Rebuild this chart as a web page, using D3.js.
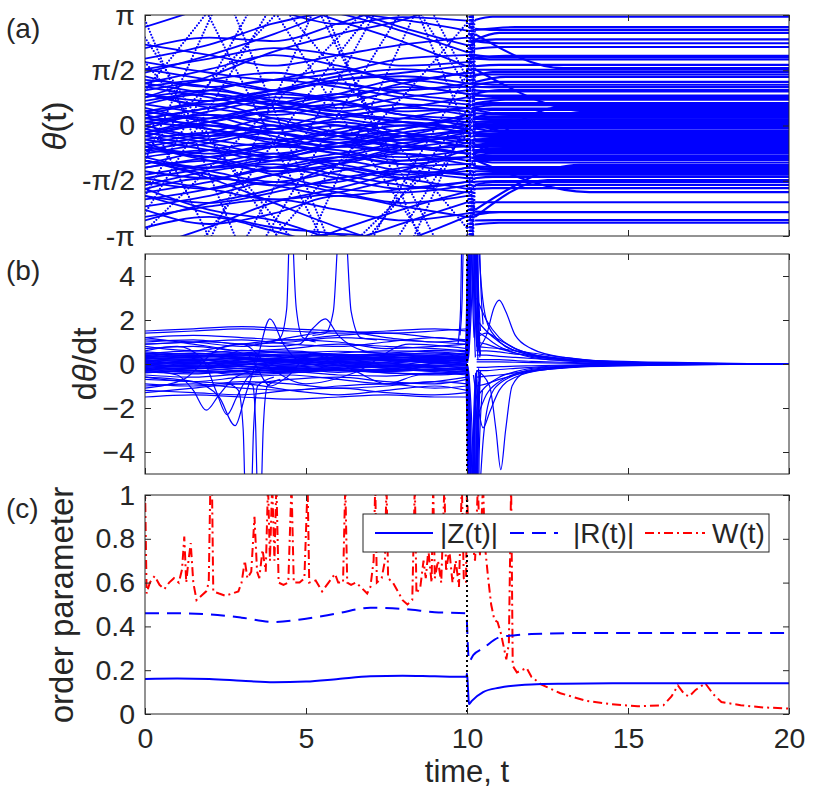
<!DOCTYPE html>
<html><head><meta charset="utf-8">
<script src="https://cdn.jsdelivr.net/npm/d3@7"></script>
<style>
body{margin:0;background:#fff}
text{font-family:"Liberation Sans",Arial,Helvetica,sans-serif;fill:#262626}
</style>
</head><body>
<svg id="chart" width="830" height="789"></svg>
<script>
const PI = Math.PI;

// ---------- tick values / labels ----------
const xTicks = [0, 5, 10, 15, 20];
const aTickValues = [-PI, -PI/2, 0, PI/2, PI];
const aTickLabels = ["-π", "-π/2", "0", "π/2", "π"];
const bTicks = [-4, -2, 0, 2, 4];
const cTicks = [0, 0.2, 0.4, 0.6, 0.8, 1];
const cTickLabels = ["0", "0.2", "0.4", "0.6", "0.8", "1"];
const switchTime = 10;

// ---------- panel (a): phases (unwrapped) ----------
const aTimes = [0, 2, 4, 6, 8, 10, 10.25];
const phaseKnots = [
 [-2.0, 1.2, 4.5, 7.6, 10.9, 14.0, 15.0],
 [1.0, 3.3, 5.8, 8.3, 10.6, 13.0, 13.8],
 [2.5, -0.3, -3.0, -5.9, -8.6, -11.5, -12.5],
 [-1.0, 3.0, 7.0, 11.1, 15.0, 19.0, 19.3],
 [0.5, -3.2, -6.8, -10.4, -14.0, -17.5, -17.7],
 [-0.8, 1.2, 3.1, 5.2, 7.1, 9.2, 9.0],
 [1.8, -0.4, -2.6, -4.8, -7.0, -9.2, -9.1],
 [-2.5, 0.5, 3.5, 6.6, 9.6, 12.5, 13.2],
 [3.0, -1.4, -5.8, -10.2, -14.6, -19.0, -19.4],
 [-3.0, -1.2, 0.6, 2.5, 4.3, 6.0, 6.2],
 [1.5, 2.0, 2.6, 3.3, 3.9, 4.4, 5.3],
 [-1.0, -1.5, -2.2, -2.9, -3.5, -4.0, -4.1],
 [2.2, 2.5, 2.4, 2.9, 3.5, 4.1, 4.1],
 [-2.0, -2.5, -2.9, -3.1, -3.6, -4.2, -4.35],
 [0.8, 1.4, 2.1, 2.6, 3.0, 3.7, 3.75],
 [-2.7, -2.2, -1.8, -1.1, -0.6, -0.2, -0.8],
 [2.8, 3.4, 4.1, 4.5, 5.0, 5.6, 5.7],
 [-1.8, -2.4, -2.7, -3.3, -3.9, -4.6, -4.6],
 [1.9, 2.3, 2.9, 3.2, 3.0, 2.7, 2.4],
 [-2.4, -2.8, -2.5, -2.0, -2.3, -2.6, -2.7],
 [1.2, 1.6, 2.0, 1.7, 1.3, 1.5, 3.0],
 [-2.9, -2.6, -3.0, -3.4, -3.2, -3.3, 2.75],
 [1.6, 1.9, 2.2, 2.0, 1.7, 1.8, 2.0],
 [1.1, 1.3, 1.0, 0.8, 1.2, 1.5, 2.6],
 [0.9, 0.6, 0.9, 1.3, 1.4, 1.2, 7.7],
 [1.3, 1.1, 0.7, 0.5, 0.8, 1.0, 1.1],
 [0.4, 0.7, 1.0, 1.2, 0.9, 0.7, 0.9],
 [0.9, 0.5, 0.3, 0.6, 1.0, 1.1, -5.4],
 [0.2, 0.5, 0.8, 0.7, 0.4, 0.5, 0.6],
 [-0.3, 0.1, 0.4, 0.2, 0.0, 0.3, 0.5],
 [0.6, 0.3, -0.1, 0.2, 0.5, 0.4, 6.5],
 [0.0, -0.3, -0.1, 0.3, 0.2, 0.1, 0.2],
 [-0.5, -0.2, 0.2, 0.0, -0.3, -0.1, 0.0],
 [0.4, 0.1, -0.2, -0.4, -0.1, 0.2, -6.3],
 [-0.1, -0.4, -0.6, -0.3, 0.0, -0.2, -0.3],
 [-0.8, -0.5, -0.2, -0.5, -0.7, -0.5, -0.4],
 [-0.3, -0.6, -0.9, -1.0, -0.7, -0.6, -0.7],
 [-1.2, -0.9, -0.6, -0.7, -1.0, -0.9, 5.4],
 [-0.6, -1.0, -1.3, -1.1, -0.8, -1.0, -0.9],
 [-1.4, -1.1, -0.8, -1.2, -1.5, -1.2, -1.0],
 [-1.6, -1.8, -1.4, -1.0, -1.3, -1.5, -2.4],
 [-1.0, -1.4, -1.7, -1.6, -1.2, -1.1, -7.5],
 [-1.9, -1.6, -1.2, -1.5, -1.8, -1.6, -1.4],
 [-1.2, -1.0, -1.4, -1.8, -1.9, -1.7, -1.5],
 [-2.0, -2.2, -1.9, -1.5, -1.3, -1.4, -2.6],
 [-1.7, -1.3, -1.1, -1.4, -1.7, -1.9, 4.6],
 [-2.3, -2.0, -1.6, -1.9, -2.2, -2.0, -1.7],
 [0.3, 0.6, 0.2, -0.2, -0.4, -0.1, 0.0],
 [-0.2, 0.2, 0.5, 0.3, 0.1, -0.1, 6.2],
 [0.1, -0.1, -0.4, -0.6, -0.4, -0.3, -0.2],
 [-0.6, -0.8, -0.5, -0.1, 0.1, -0.1, -0.2],
 [0.2, 0.0, -0.2, 0.0, -0.3, -0.6, -0.4],
 [-0.9, -0.7, -0.9, -0.6, -0.3, -0.4, -6.7],
 [-0.4, -0.2, -0.5, -0.8, -0.9, -0.7, -0.6],
 [-1.0, -1.2, -0.9, -0.5, -0.4, -0.6, -0.6],
 [0.8, 1.0, 0.7, 0.4, 0.6, 0.5, 1.6],
 [1.1, 0.8, 0.5, 0.8, 1.1, 0.9, 6.8],
 [-0.7, -0.9, -1.2, -0.9, -0.6, -0.8, -1.0],
 [-1.5, -1.8, -2.1, -1.9, -1.5, -1.3, -1.4],
 [-0.2, 0.1, 0.4, 0.6, 0.3, 0.0, 0.2],
 [0.5, 0.2, 0.6, 0.9, 0.6, 0.3, 0.35],
 [-0.5, -0.9, -0.6, -0.2, -0.5, -0.8, -0.75],
 [1.4, 1.1, 1.3, 1.6, 1.2, 0.9, 0.85],
 [-1.3, -1.5, -1.2, -0.9, -1.1, -1.4, -1.3],
 [0.7, 1.0, 1.3, 1.1, 0.8, 0.6, 0.6],
 [-0.1, 0.3, 0.1, -0.3, -0.6, -0.4, -0.45],
 [1.8, 1.5, 1.3, 1.5, 1.9, 2.0, 1.9],
 [-1.8, -1.5, -1.7, -2.0, -1.8, -1.6, -1.6],
 [0.3, -0.1, -0.4, -0.2, 0.2, 0.5, 0.45],
 [-0.7, -0.4, -0.1, 0.1, -0.2, -0.5, -0.55],
 [1.0, 1.3, 1.5, 1.2, 1.0, 1.2, 1.2],
 [-1.1, -0.7, -0.5, -0.8, -1.1, -0.9, -0.85],
 [0.0, 0.4, 0.7, 0.4, 0.1, -0.1, -0.05],
 [-0.4, -0.7, -1.0, -0.8, -0.5, -0.3, -0.3],
 [0.9, 0.7, 1.0, 1.4, 1.6, 1.4, 1.45],
 [-2.1, -1.8, -1.4, -1.2, -1.5, -1.8, -1.8],
 [0.1, 0.3, 0.0, -0.3, -0.1, 0.3, 0.25],
 [-0.9, -1.2, -1.0, -0.6, -0.8, -1.1, -1.15],
 [0.6, 0.9, 0.6, 0.3, 0.5, 0.8, 0.75],
 [-0.2, -0.5, -0.8, -0.5, -0.2, 0.0, 0.05],
 [1.6, 1.3, 1.0, 1.3, 1.5, 1.7, -4.7],
 [-0.6, -0.3, 0.0, -0.3, -0.6, -0.8, 5.5],
 [0.2, 0.5, 0.9, 0.7, 0.3, 0.2, -6.1],
 [-1.5, -1.2, -0.9, -1.1, -1.4, -1.2, 5.1],
 [2.3, 2.0, 1.7, 2.0, 2.3, 2.5, 2.4],
 [-2.6, -2.3, -2.1, -2.4, -2.7, -2.5, -2.45],
 [1.2, 0.9, 0.6, 0.9, 1.3, 1.1, 1.0],
 [-0.3, 0.0, -0.2, -0.5, -0.3, 0.1, 0.1],
 [0.4, 0.1, -0.3, -0.6, -0.3, -0.2, -0.25],
 [-1.0, -1.3, -1.6, -1.3, -1.0, -0.9, -0.95]
];
const settleTime = [
 11.0, 11.2, 11.0, 11.3, 11.0, 11.5, 11.0, 11.2, 11.0, 11.5,
 13.8, 11.0, 11.0, 11.2, 11.0, 13.0, 11.5, 11.0, 11.0, 11.0,
 10.8, 10.7, 10.8, 13.0, 10.8, 10.7, 11.0, 10.8, 10.7, 10.8,
 10.9, 10.7, 10.8, 10.9, 10.8, 10.8, 10.7, 10.8, 10.7, 10.8,
 13.5, 10.8, 10.8, 10.8, 12.5, 10.8, 10.8, 11.0, 10.8, 10.7,
 10.8, 11.0, 10.8, 10.7, 10.8, 13.8, 10.8, 10.9, 10.8, 10.8,
 10.8, 10.8, 10.9, 10.8, 10.7, 10.8, 10.8, 10.9, 10.8, 10.8,
 10.8, 10.7, 10.8, 10.8, 10.9, 10.8, 10.8, 10.8, 10.7, 10.8,
 10.8, 10.8, 10.8, 10.8, 10.9, 10.8, 10.8, 10.8, 10.8, 10.9
];
const finalPhase = [
 15.20, 13.95, -12.70, 19.15, -17.61, 9.08, -9.05, 13.30, -19.35, 6.07,
 4.39, -4.05, 4.10, -4.30, 3.82, 0.53, 5.67, -4.56, 2.34, -2.69,
 3.09, 2.72, 1.95, 1.63, 7.80, 1.09, 1.01, -5.47, 0.64, 0.44,
 6.64, 0.16, 0.01, -6.35, -0.33, -0.41, -0.70, 5.50, -0.90, -0.98,
 -1.12, -7.55, -1.35, -1.46, -1.55, 4.67, -1.69, 0.05, 6.25, -0.17,
 -0.25, -0.37, -6.73, -0.55, -0.65, 0.40, 6.86, -1.05, -1.40, 0.22,
 0.33, -0.75, 0.85, -1.30, 0.60, -0.47, 1.88, -1.58, 0.48, -0.58,
 1.16, -0.85, -0.05, -0.29, 1.45, -1.78, 0.26, -1.18, 0.76, 0.08,
 -4.70, 5.53, -6.11, 5.05, 2.45, -2.46, 0.97, 0.12, -0.23, -0.95
];

// ---------- panel (b): rates ----------
const bPreTimes = [0, 1.5, 3, 4.5, 6, 7.5, 9, 10];
const bPreRates = [
 [0.1,0.2,0.0,-0.1,0.1,0.2,0.1,0.0],
 [-0.1,0.0,0.2,0.1,-0.1,0.0,0.2,0.1],
 [0.3,0.2,0.1,0.3,0.4,0.2,0.1,0.2],
 [-0.3,-0.2,-0.1,-0.3,-0.2,-0.1,-0.3,-0.2],
 [0.0,-0.1,-0.2,0.0,0.1,-0.1,0.0,0.1],
 [0.4,0.5,0.3,0.2,0.3,0.4,0.5,0.3],
 [-0.2,-0.4,-0.3,-0.1,-0.2,-0.3,-0.1,-0.2],
 [0.2,0.0,0.1,0.2,0.0,0.1,0.3,0.2],
 [0.05,0.1,0.3,0.2,0.1,0.0,-0.1,0.0],
 [-0.05,-0.15,0.0,0.1,0.0,-0.2,-0.1,-0.1],
 [0.5,0.4,0.5,0.6,0.4,0.3,0.4,0.5],
 [-0.4,-0.3,-0.5,-0.4,-0.3,-0.4,-0.5,-0.4],
 [0.15,0.25,0.2,0.1,0.25,0.3,0.2,0.15],
 [-0.15,-0.05,-0.1,-0.25,-0.15,-0.05,-0.2,-0.15],
 [0.35,0.3,0.4,0.35,0.2,0.25,0.3,0.35],
 [0.0,0.1,0.0,-0.05,0.05,0.15,0.05,-0.05],
 [-0.25,-0.3,-0.2,-0.15,-0.3,-0.35,-0.25,-0.3],
 [0.25,0.15,0.3,0.4,0.3,0.2,0.15,0.25],
 [0.45,0.6,0.5,0.4,0.5,0.6,0.55,0.45],
 [-0.5,-0.6,-0.45,-0.35,-0.5,-0.55,-0.4,-0.5],
 [0.12,0.02,0.18,0.28,0.12,0.05,0.22,0.3],
 [-0.08,0.08,-0.12,-0.02,0.15,0.05,-0.08,0.05],
 [0.32,0.42,0.28,0.15,0.35,0.45,0.38,0.28],
 [-0.35,-0.45,-0.28,-0.2,-0.38,-0.25,-0.35,-0.45],
 [0.22,0.35,0.45,0.3,0.18,0.35,0.42,0.4],
 [0.55,0.45,0.62,0.5,0.58,0.5,0.62,0.55],
 [-0.18,-0.28,-0.35,-0.22,-0.08,-0.18,-0.3,-0.25],
 [0.08,-0.05,0.1,0.22,0.05,-0.05,0.12,0.18],
 [0.28,0.38,0.22,0.12,0.3,0.4,0.32,0.24],
 [-0.02,-0.12,0.06,0.16,-0.04,-0.14,0.04,0.12],
 [0.42,0.32,0.36,0.46,0.4,0.28,0.34,0.42],
 [-0.28,-0.18,-0.32,-0.4,-0.22,-0.12,-0.3,-0.36],
 [0.18,0.08,-0.02,0.12,0.24,0.16,0.06,0.1],
 [-0.12,-0.22,-0.06,0.04,-0.18,-0.26,-0.14,-0.06],
 [0.38,0.48,0.4,0.3,0.44,0.36,0.26,0.36],
 [0.02,0.16,0.26,0.08,-0.06,0.08,0.2,0.26],
 [-0.38,-0.32,-0.42,-0.3,-0.26,-0.4,-0.44,-0.32],
 [0.48,0.38,0.46,0.54,0.42,0.46,0.5,0.4],
 [0.26,0.2,0.1,0.18,0.32,0.24,0.14,0.22],
 [-0.22,-0.1,-0.2,-0.32,-0.24,-0.08,-0.16,-0.28],
 [0.7,0.8,0.6,0.7,0.9,0.8,0.7,0.6],
 [-0.7,-0.8,-0.9,-0.7,-0.6,-0.8,-0.9,-0.7],
 [1.0,1.1,0.9,1.0,1.2,1.1,1.0,0.9],
 [-1.0,-0.9,-1.1,-1.2,-1.0,-0.9,-1.1,-1.0],
 [1.2,1.3,1.2,1.1,1.3,1.4,1.2,1.1],
 [-1.2,-1.3,-1.4,-1.2,-1.1,-1.3,-1.4,-1.3],
 [1.4,1.5,1.6,1.5,1.4,1.5,1.6,1.5],
 [-1.5,-1.4,-1.5,-1.6,-1.5,-1.4,-1.5,-1.5],
 [1.5,1.6,1.7,1.6,1.5,1.4,1.5,1.6],
 [0.9,1.0,1.1,0.9,0.8,1.0,1.2,1.0],
 [-0.9,-1.0,-0.8,-0.9,-1.1,-1.0,-0.8,-0.9],
 [1.1,1.0,0.8,1.2,1.5,1.2,1.0,1.1],
 [-1.3,-1.1,-0.9,-1.2,-1.4,-1.2,-1.0,-1.2],
 [0.8,0.6,0.9,1.1,1.0,0.7,0.8,0.9],
 [-0.6,-0.8,-0.6,-0.5,-0.7,-0.9,-0.8,-0.6]
];
const bPostTimes = [10.3, 10.6, 11, 11.5, 12, 13, 14, 16, 20];
const bPostRates = [
 [1.5,1.2,0.8,0.5,0.3,0.15,0.08,0.02,0],
 [-1.5,-1.0,-0.6,-0.35,-0.2,-0.1,-0.05,-0.01,0],
 [0.8,0.75,0.7,0.6,0.5,0.3,0.15,0.04,0],
 [2.0,1.5,1.0,0.6,0.4,0.2,0.1,0.02,0],
 [-0.6,-0.55,-0.5,-0.4,-0.3,-0.15,-0.08,-0.02,0],
 [1.0,0.9,0.7,0.5,0.35,0.2,0.1,0.02,0],
 [0.4,0.4,0.35,0.3,0.25,0.15,0.08,0.02,0],
 [-0.3,-0.3,-0.25,-0.2,-0.15,-0.08,-0.04,-0.01,0],
 [0.2,0.2,0.2,0.15,0.12,0.08,0.04,0.01,0],
 [3.0,2.0,1.2,0.7,0.45,0.2,0.1,0.02,0],
 [-2.5,-1.4,-0.8,-0.45,-0.25,-0.12,-0.05,-0.01,0],
 [0.6,0.6,0.55,0.45,0.4,0.25,0.12,0.03,0],
 [-0.15,-0.15,-0.12,-0.1,-0.08,-0.05,-0.03,0,0],
 [0.1,0.1,0.1,0.08,0.06,0.04,0.02,0,0],
 [1.2,1.4,1.1,0.7,0.45,0.22,0.1,0.02,0],
 [-1.0,-0.9,-0.7,-0.5,-0.35,-0.18,-0.08,-0.02,0]
];
const bEvents = [
 [[0,-0.3],[1.0,-0.5],[1.5,-1.2],[1.9,-2.1],[2.3,-1.4],[2.8,-0.6],[3.5,-0.3],[5,-0.2],[7,-0.3],[10,-0.2]],
 [[0,0.6],[1,0.8],[1.8,0.2],[2.2,-1.2],[2.55,-2.3],[2.85,-1.5],[3.2,-0.6],[4,0.0],[6,0.3],[8,0.2],[10,0.3]],
 [[0,-0.6],[1.5,-0.8],[2.3,-1.5],[2.8,-2.8],[3.1,-1.5],[3.5,0.3],[3.88,2.05],[4.3,0.9],[5,0.0],[7,-0.1],[10,0.0]],
 [[0,0.9],[2,1.0],[4,0.8],[4.8,0.9],[5.2,1.6],[5.6,2.05],[6.0,1.3],[6.8,0.6],[8,0.4],[10,0.3]],
 [[2.6,-0.9],[2.9,-1.2],[3.05,-3],[3.10,-5.5],[3.21,-9],[3.32,-5.5],[3.37,-3],[3.5,-1.0],[4.0,-0.6]],
 [[3.2,-0.8],[3.35,-1.0],[3.44,-3],[3.48,-5.5],[3.55,-9],[3.62,-5.5],[3.67,-3],[3.8,-1.0],[4.2,-0.7]],
 [[3.9,1.0],[4.2,1.2],[4.4,2.5],[4.47,5.5],[4.53,9],[4.60,5.5],[4.7,2.5],[4.9,1.2],[5.3,1.0]],
 [[5.2,1.3],[5.6,1.4],[5.85,2.4],[5.98,5.5],[6.12,9],[6.27,5.5],[6.4,2.4],[6.7,1.2],[7.2,1.1]],
 [[0,1.2],[1.5,0.9],[3.2,0.4],[3.9,-1.0],[4.4,-0.6],[5.2,0.5],[6.5,-0.3],[7.5,-0.9],[8.5,-0.5],[10,-0.4]],
 [[0,-1.1],[1.2,-0.7],[2.3,0.7],[3.0,0.9],[4.0,-0.3],[5.0,-0.9],[6.5,-0.4],[8.2,0.9],[10,0.7]],
 [[10.3,0.6],[10.6,1.3],[10.85,2.6],[11.0,2.9],[11.2,2.4],[11.5,1.3],[12,0.7],[13,0.3],[15,0.08],[20,0]],
 [[10.3,-0.3],[10.7,-1.0],[10.9,-3.0],[11.05,-4.8],[11.2,-3.0],[11.4,-1.0],[11.8,-0.4],[13,-0.15],[20,0]],
 [[10.2,-0.5],[10.35,-2.0],[10.5,-2.9],[10.7,-2.2],[11,-1.2],[11.5,-0.6],[12.5,-0.25],[15,-0.05],[20,0]],
 [[10.3,7],[10.45,3.5],[10.6,2.0],[10.9,1.2],[11.5,0.6],[13,0.2],[20,0]],
 [[10.35,-7],[10.5,-3.5],[10.7,-1.6],[11.0,-0.9],[12,-0.3],[14,-0.05],[20,0]]
];
const bTransients = [
 [[9.72,0.9],[9.8,2.5],[9.84,6],[9.88,9]],
 [[9.78,1.3],[9.85,3],[9.89,6],[9.92,9]],
 [[9.95,0.3],[10.0,4],[10.03,9],[10.2,9],[10.24,4],[10.3,0.8]],
 [[9.96,-0.2],[10.01,-4],[10.04,-9],[10.18,-9],[10.22,-4],[10.28,-0.6]],
 [[9.97,0.1],[10.03,5],[10.06,9],[10.12,9],[10.15,5],[10.22,1.2]],
 [[9.98,-0.1],[10.04,-5],[10.07,-9],[10.26,-9],[10.3,-4],[10.38,-1.0]],
 [[9.99,0.4],[10.06,6],[10.08,9],[10.3,9],[10.33,5],[10.42,1.5]],
 [[10.0,-0.3],[10.07,-6],[10.09,-9],[10.14,-9],[10.17,-5],[10.25,-1.5]],
 [[10.0,0.2],[10.08,4],[10.11,9],[10.22,9],[10.26,3],[10.35,0.9]],
 [[10.0,-0.5],[10.1,-4],[10.13,-9],[10.24,-9],[10.28,-3],[10.36,-0.8]],
 [[10.01,0.0],[10.09,-3],[10.12,-9],[10.16,-9],[10.2,-3],[10.27,-0.4]],
 [[10.01,0.1],[10.05,3],[10.1,9],[10.19,9],[10.23,3.5],[10.32,0.6]],
 [[10.02,-0.1],[10.1,-5],[10.15,-9],[10.34,-9],[10.38,-4],[10.48,-1.2]],
 [[10.02,0.3],[10.12,5],[10.16,9],[10.36,9],[10.4,5],[10.5,1.8]],
 [[10.0,0.1],[10.03,6],[10.04,9],[10.27,9],[10.29,5],[10.36,0.6]],
 [[10.0,-0.1],[10.04,-6],[10.05,-9],[10.29,-9],[10.31,-5],[10.4,-0.5]],
 [[10.01,0.2],[10.05,6],[10.06,9],[10.31,9],[10.33,4],[10.42,0.4]],
 [[10.01,-0.2],[10.06,-6],[10.07,-9],[10.21,-9],[10.23,-5],[10.3,-0.7]],
 [[10.02,0.05],[10.09,6],[10.1,9],[10.17,9],[10.19,5],[10.26,0.3]],
 [[10.02,-0.05],[10.11,-6],[10.12,-9],[10.19,-9],[10.21,-5],[10.3,-0.3]],
 [[10.03,0.15],[10.13,6],[10.14,9],[10.24,9],[10.26,5],[10.34,0.2]],
 [[10.03,-0.15],[10.14,-6],[10.15,-9],[10.26,-9],[10.28,-5],[10.36,-0.2]],
 [[10.04,0.25],[10.15,6],[10.17,9],[10.28,9],[10.3,5],[10.38,0.5]],
 [[10.04,-0.25],[10.16,-6],[10.18,-9],[10.3,-9],[10.32,-5],[10.4,-0.35]],
 [[10.05,0.3],[10.2,6],[10.21,9],[10.32,9],[10.33,5],[10.4,0.3]],
 [[10.05,-0.3],[10.22,-6],[10.23,-9],[10.33,-9],[10.34,-5],[10.42,-0.3]]
];

// ---------- panel (c): order parameters ----------
const zTimes  = [0,1,2,3,4,5,6,7,8,9,9.98,10.0,10.03,10.06,10.15,10.5,11,12,13,15,20];
const zValues = [0.16,0.162,0.16,0.152,0.145,0.148,0.16,0.172,0.175,0.172,0.17,0.185,0.12,0.045,0.06,0.10,0.12,0.135,0.138,0.14,0.14];
const rTimes  = [0,1,2,3,4,5,6,7,8,9,9.98,10.03,10.06,10.2,10.5,11,11.5,12,14,20];
const rValues = [0.46,0.46,0.455,0.44,0.42,0.435,0.46,0.485,0.48,0.465,0.46,0.30,0.24,0.27,0.30,0.35,0.36,0.365,0.37,0.37];
const wTimes = [0,0.05,0.15,0.3,0.45,0.6,0.75,0.9,1.05,1.15,1.22,1.28,1.35,1.42,1.5,1.6,1.75,1.9,1.98,2.03,2.08,2.12,2.3,2.5,2.7,2.9,3.0,3.1,3.18,3.3,3.4,3.48,3.55,3.65,3.75,3.82,3.88,3.95,4.02,4.08,4.15,4.3,4.45,4.55,4.62,4.8,4.95,5.05,5.1,5.3,5.5,5.7,5.9,6.0,6.15,6.22,6.28,6.4,6.55,6.7,6.9,7.0,7.1,7.15,7.2,7.35,7.45,7.5,7.55,7.7,7.85,8.0,8.15,8.3,8.38,8.43,8.55,8.65,8.72,8.8,8.9,8.95,9.0,9.1,9.2,9.3,9.35,9.45,9.55,9.65,9.75,9.84,9.9,9.97,10.0,10.05,10.15,10.25,10.34,10.4,10.5,10.55,10.65,10.75,10.85,10.95,11.05,11.15,11.22,11.3,11.37,11.42,11.55,11.7,11.85,12.0,12.3,12.9,13.7,14.5,15.3,16.1,16.35,16.55,16.75,16.9,17.1,17.4,17.65,17.9,18.5,19.2,20];
const wValues = [1.05,0.55,0.6,0.63,0.59,0.57,0.6,0.62,0.6,0.66,0.81,0.6,0.7,0.78,0.6,0.52,0.54,0.56,0.6,1.05,1.05,0.56,0.55,0.54,0.55,0.56,0.6,0.7,0.62,0.65,0.9,0.65,0.62,0.75,0.65,1.05,0.7,1.05,0.7,1.05,0.6,0.59,0.6,1.05,0.6,0.6,0.62,1.05,0.6,0.61,0.56,0.6,0.64,0.6,0.6,1.05,0.6,0.59,0.6,0.58,0.55,0.58,0.7,1.05,0.6,0.62,0.7,1.05,0.62,0.6,0.56,0.52,0.5,0.52,1.05,0.55,0.58,0.7,0.62,0.75,0.6,1.05,0.62,0.7,0.6,1.05,0.65,0.75,0.6,0.7,0.58,1.05,0.62,0.6,1.05,0.75,0.8,0.7,1.05,0.72,1.05,0.78,0.63,0.5,0.43,0.42,0.37,0.3,0.25,0.32,1.05,0.22,0.19,0.2,0.21,0.17,0.135,0.095,0.06,0.045,0.035,0.04,0.08,0.13,0.09,0.08,0.11,0.14,0.09,0.055,0.04,0.03,0.025];
const legendLabels = ["|Z(t)|", "|R(t)|", "W(t)"];

// ---------- layout ----------
const svg = d3.select("#chart");
const x = d3.scaleLinear().domain([0, 20]).range([145, 789]);
const ya = d3.scaleLinear().domain([-PI, PI]).range([236, 15]);
const yb = d3.scaleLinear().domain([-5, 5]).range([474, 254]);
const yc = d3.scaleLinear().domain([0, 1]).range([714, 495]);
const BLUE = "#0000ff", RED = "#ff0000", AX = "#262626";

const defs = svg.append("defs");
function clip(id, y) {
  defs.append("clipPath").attr("id", id).append("rect")
    .attr("x", x.range()[0]).attr("y", y.range()[1])
    .attr("width", x.range()[1] - x.range()[0]).attr("height", y.range()[0] - y.range()[1]);
}
clip("clipA", ya); clip("clipB", yb); clip("clipC", yc);

// ---------- panel (a) ----------
const gA = svg.append("g").attr("clip-path", "url(#clipA)");
const wraps = d3.range(-4, 5);
phaseKnots.forEach((row, i) => {
  const pre = aTimes.slice(0, 6).map((t, j) => [t, row[j]]);
  const jump = [[aTimes[5], row[5]], [aTimes[6], row[6]]];
  const post = [[aTimes[6], row[6]], [settleTime[i], finalPhase[i]], [20, finalPhase[i]]];
  const fast = Math.abs(row[5] - row[0]) > 6;
  wraps.forEach(k => {
    const off = 2 * PI * k;
    const ln = d3.line().x(d => x(d[0])).y(d => ya(d[1] + off)).curve(d3.curveMonotoneX);
    const pp = gA.append("path").attr("d", ln(pre)).attr("fill", "none").attr("stroke", BLUE);
    if (fast) pp.attr("stroke-width", 2.2).attr("stroke-linecap", "round").attr("stroke-dasharray", "0 3.2");
    else pp.attr("stroke-width", 1.8);
    gA.append("path").attr("d", d3.line().x(d => x(d[0])).y(d => ya(d[1] + off))(jump))
      .attr("fill", "none").attr("stroke", BLUE).attr("stroke-width", 2)
      .attr("stroke-linecap", "round").attr("stroke-dasharray", "0 3.5");
    gA.append("path").attr("d", ln(post)).attr("fill", "none").attr("stroke", BLUE).attr("stroke-width", 2.1);
  });
});

// ---------- panel (b) ----------
const gB = svg.append("g").attr("clip-path", "url(#clipB)");
const lnB = d3.line().x(d => x(d[0])).y(d => yb(d[1])).curve(d3.curveMonotoneX);
bPreRates.forEach(r => gB.append("path").attr("d", lnB(bPreTimes.map((t, j) => [t, r[j]]))));
bPostRates.forEach(r => gB.append("path").attr("d", lnB(bPostTimes.map((t, j) => [t, r[j]]))));
bEvents.forEach(p => gB.append("path").attr("d", lnB(p)));
bTransients.forEach(p => gB.append("path").attr("d", lnB(p)));
gB.selectAll("path").attr("fill", "none").attr("stroke", BLUE).attr("stroke-width", 1.2);

// ---------- panel (c) ----------
const gC = svg.append("g").attr("clip-path", "url(#clipC)");
const lnC = d3.line().x(d => x(d[0])).y(d => yc(d[1])).curve(d3.curveMonotoneX);
const lnCl = d3.line().x(d => x(d[0])).y(d => yc(d[1]));
gC.append("path").attr("d", lnCl(wTimes.map((t, j) => [t, wValues[j]])))
  .attr("fill", "none").attr("stroke", RED).attr("stroke-width", 2).attr("stroke-dasharray", "9,4,2,4");
gC.append("path").attr("d", lnC(rTimes.map((t, j) => [t, rValues[j]])))
  .attr("fill", "none").attr("stroke", BLUE).attr("stroke-width", 2).attr("stroke-dasharray", "14,8");
gC.append("path").attr("d", lnC(zTimes.map((t, j) => [t, zValues[j]])))
  .attr("fill", "none").attr("stroke", BLUE).attr("stroke-width", 2);

// ---------- t = 10 dotted marker ----------
[ya, yb, yc].forEach(y => {
  svg.append("line").attr("x1", x(switchTime)).attr("x2", x(switchTime))
    .attr("y1", y.range()[1]).attr("y2", y.range()[0])
    .attr("stroke", "#000").attr("stroke-width", 2).attr("stroke-dasharray", "2,3");
});

// ---------- axes ----------
function frame(y, tickVals, fmt, xLabels) {
  const top = y.range()[1], bot = y.range()[0];
  const L = svg.append("g").attr("transform", `translate(${x.range()[0]},0)`)
    .call(d3.axisLeft(y).tickValues(tickVals).tickFormat(fmt).tickSizeInner(-6).tickSizeOuter(0).tickPadding(10));
  const R = svg.append("g").attr("transform", `translate(${x.range()[1]},0)`)
    .call(d3.axisRight(y).tickValues(tickVals).tickFormat("").tickSizeInner(-6).tickSizeOuter(0));
  const T = svg.append("g").attr("transform", `translate(0,${top})`)
    .call(d3.axisTop(x).tickValues(xTicks).tickFormat("").tickSizeInner(-6).tickSizeOuter(0));
  const B = svg.append("g").attr("transform", `translate(0,${bot})`)
    .call(d3.axisBottom(x).tickValues(xTicks).tickFormat(xLabels ? d3.format("d") : "").tickSizeInner(-6).tickSizeOuter(0).tickPadding(14));
  [L, R, T, B].forEach(g => {
    g.attr("color", AX);
    g.select(".domain").remove();
    g.selectAll("text").attr("font-size", 28.5).attr("font-family", '"Liberation Sans",Arial,sans-serif');
  });
  svg.append("rect").attr("x", x.range()[0]).attr("y", top)
    .attr("width", x.range()[1] - x.range()[0]).attr("height", bot - top)
    .attr("fill", "none").attr("stroke", AX).attr("stroke-width", 1);
}
frame(ya, aTickValues, (d, i) => aTickLabels[i], false);
frame(yb, bTicks, d3.format("d"), false);
frame(yc, cTicks, (d, i) => cTickLabels[i], true);

// ---------- legend ----------
const lg = svg.append("g");
lg.append("rect").attr("x", 363).attr("y", 514).attr("width", 406).attr("height", 38)
  .attr("fill", "#fff").attr("stroke", AX).attr("stroke-width", 1);
const legItems = [
  {x0: 375, x1: 433, tx: 440, color: BLUE, dash: null},
  {x0: 510, x1: 558, tx: 573, color: BLUE, dash: "14,8"},
  {x0: 645, x1: 705, tx: 712, color: RED, dash: "9,4,2,4"}
];
legItems.forEach((it, i) => {
  const l = lg.append("line").attr("x1", it.x0).attr("x2", it.x1).attr("y1", 533).attr("y2", 533)
    .attr("stroke", it.color).attr("stroke-width", 2);
  if (it.dash) l.attr("stroke-dasharray", it.dash);
  lg.append("text").attr("x", it.tx).attr("y", 543).attr("font-size", 28).text(legendLabels[i]);
});

// ---------- labels ----------
function vlabel(cx, cy, parts) {
  const t = svg.append("text").attr("transform", `translate(${cx},${cy}) rotate(-90)`)
    .attr("text-anchor", "middle").attr("font-size", 33);
  parts.forEach(p => t.append("tspan").attr("font-style", p[1] ? "italic" : null).text(p[0]));
}
vlabel(66, 126, [["θ", true], ["(t)", false]]);
vlabel(96, 364, [["d", false], ["θ", true], ["/dt", false]]);
vlabel(73, 605, [["order parameter", false]]);
svg.append("text").attr("x", x(10)).attr("y", 782).attr("text-anchor", "middle")
  .attr("font-size", 31).text("time, t");
[["(a)", 38], ["(b)", 280], ["(c)", 518]].forEach(p =>
  svg.append("text").attr("x", 6).attr("y", p[1]).attr("font-size", 28).text(p[0]));
</script>
</body></html>
